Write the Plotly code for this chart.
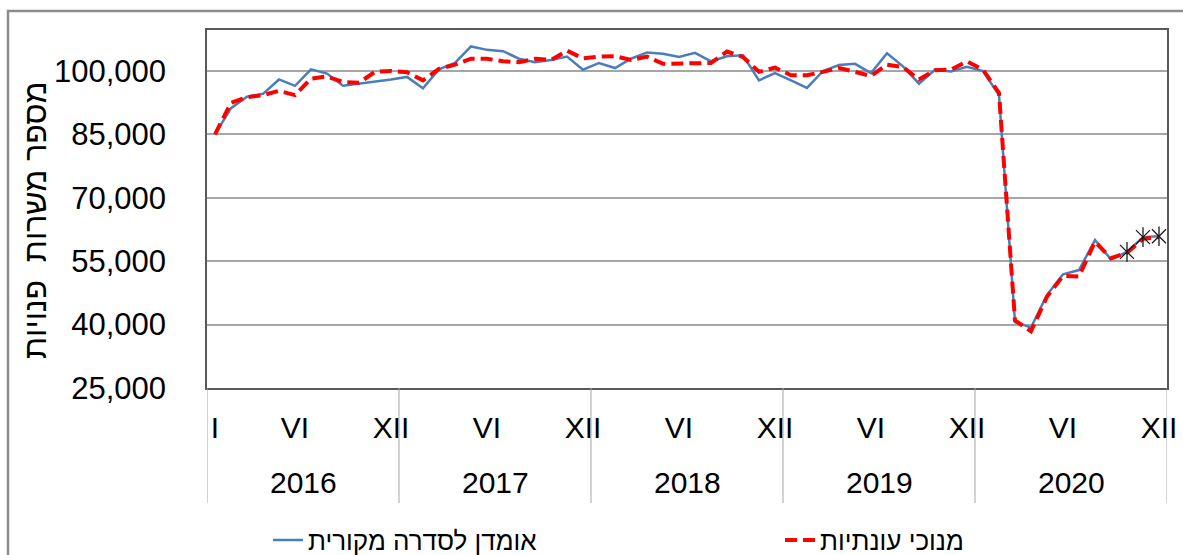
import plotly.graph_objects as go

# ---------------- data ----------------
years = [2016, 2017, 2018, 2019, 2020]
month_numbers = list(range(1, 13))
roman_ticks = {1: "I", 6: "VI", 12: "XII"}

series_original_name = "אומדן לסדרה מקורית"
series_seasonal_name = "מנוכי עונתיות"
y_title = "מספר משרות  פנויות"

original = [
    85000, 91200, 93900, 94600, 98000, 96500, 100400, 99400, 96500, 97000, 97400, 98000,
    98600, 95900, 100400, 101900, 105800, 105000, 104700, 102900, 102100, 102600, 103400, 100300,
    101900, 100700, 102900, 104400, 104100, 103300, 104300, 102300, 103500, 103700, 97800, 99500,
    97800, 96000, 100000, 101400, 101700, 99500, 104200, 101100, 97000, 100300, 99900, 101000,
    100000, 94300, 40600, 39300, 47000, 51900, 52900, 60000, 55400, 57200, 60700, 60900,
]
seasonal = [
    85000, 92500, 93800, 94300, 95300, 94300, 98200, 98700, 97400, 97200, 99800, 100000,
    99700, 97800, 100500, 101500, 102900, 102900, 102300, 102100, 102900, 102600, 104800, 103000,
    103400, 103500, 102600, 103400, 101700, 101700, 101700, 101900, 104600, 103300, 99800, 100800,
    99000, 99000, 99800, 100700, 99800, 98800, 101500, 100900, 98000, 100200, 100300, 102300,
    100300, 94800, 41000, 38400, 46600, 51500, 51400, 59600, 55700, 57000, 60300, 60700,
]
provisional_periods = [(2020, 10), (2020, 11), (2020, 12)]

y_ticks = [25000, 40000, 55000, 70000, 85000, 100000]
y_range = [25000, 109700]

# ---------------- derived positions ----------------
periods = [(y, m) for y in years for m in month_numbers]
xpos = list(range(len(periods)))
tick_vals, tick_text = [], []
for i, (y, m) in enumerate(periods):
    if m in roman_ticks and not (m == 1 and y != years[0]):
        tick_vals.append(i)
        tick_text.append(roman_ticks[m])
prov_idx = [periods.index(p) for p in provisional_periods]

# plot-area geometry (px)
W, H = 1183, 555
L, R, T, B = 207, 1167, 30, 388


def px(X):
    return (X - L) / (R - L)


def py(Y):
    return (B - Y) / (B - T)


FONT = "Liberation Sans, Arial, sans-serif"

fig = go.Figure()
fig.add_trace(go.Scatter(
    x=xpos, y=original, mode="lines", name=series_original_name, legend="legend",
    line=dict(color="#4A7EBB", width=2.5),
))
fig.add_trace(go.Scatter(
    x=xpos, y=seasonal, mode="lines", name=series_seasonal_name, legend="legend2",
    line=dict(color="#FF0000", width=4, dash="12px,6px"),
))
for sym in ["x-thin-open", "line-ns-open"]:
    fig.add_trace(go.Scatter(
        x=[xpos[i] for i in prov_idx], y=[original[i] for i in prov_idx],
        mode="markers", showlegend=False, hoverinfo="skip",
        marker=dict(symbol=sym, size=14, color="#1a1a1a",
                    line=dict(color="#1a1a1a", width=1.3)),
    ))

shapes = []
# year dividers below the axis
for k in range(len(years) + 1):
    shapes.append(dict(type="line", xref="x", yref="paper",
                       x0=k * 12 - 0.5, x1=k * 12 - 0.5, y0=0, y1=py(503),
                       line=dict(color="#A6A6A6", width=1)))
# outer chart frame
shapes.append(dict(type="rect", xref="paper", yref="paper",
                   x0=px(8), x1=px(1195), y0=py(11), y1=py(570),
                   line=dict(color="#8C8C8C", width=2.5), layer="below"))

annotations = []
for k, y in enumerate(years):
    annotations.append(dict(x=k * 12 + 5.5, y=py(482), xref="x", yref="paper",
                            text=str(y), showarrow=False, xanchor="center", yanchor="middle",
                            font=dict(family=FONT, size=30, color="#000")))
annotations.append(dict(x=px(35), y=py(220), xref="paper", yref="paper",
                        text=y_title, textangle=-90, showarrow=False,
                        xanchor="center", yanchor="middle",
                        font=dict(family=FONT, size=32, color="#000")))

legend_common = dict(orientation="h", xanchor="left", yanchor="middle",
                     font=dict(family=FONT, size=26, color="#000"),
                     bgcolor="rgba(0,0,0,0)")

fig.update_layout(
    width=W, height=H,
    margin=dict(l=L, r=W - R, t=T, b=H - B, pad=0, autoexpand=False),
    paper_bgcolor="white", plot_bgcolor="white",
    font=dict(family=FONT, color="#000"),
    showlegend=True,
    legend=dict(x=px(268), y=py(540), **legend_common),
    legend2=dict(x=px(780), y=py(540), **legend_common),
    shapes=shapes,
    annotations=annotations,
    xaxis=dict(range=[-0.5, len(periods) - 0.5], tickmode="array",
               tickvals=tick_vals, ticktext=tick_text,
               showgrid=False, zeroline=False,
               showline=True, mirror=True, linecolor="#595959", linewidth=1.5,
               ticks="outside", ticklen=12, tickcolor="rgba(0,0,0,0)",
               tickfont=dict(family=FONT, size=30, color="#000")),
    yaxis=dict(range=y_range, tickmode="array", tickvals=y_ticks,
               tickformat=",d", showgrid=True, gridcolor="#A6A6A6", gridwidth=1.5,
               zeroline=False, showline=True, mirror=True, linecolor="#595959", linewidth=1.5,
               ticks="outside", ticklen=33, tickcolor="rgba(0,0,0,0)",
               tickfont=dict(family=FONT, size=31, color="#000")),
)

fig.write_html("out.html", config={"displayModeBar": False},
               post_script="document.body.style.margin='0';document.body.style.overflow='hidden';")
